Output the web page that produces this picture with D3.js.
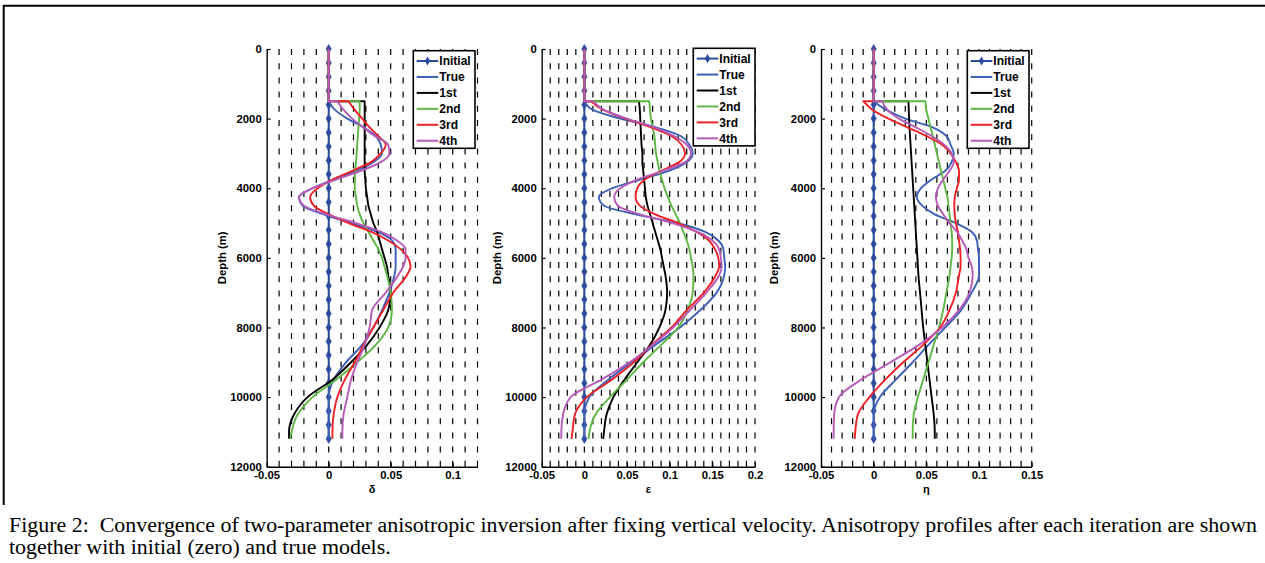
<!DOCTYPE html>
<html><head><meta charset="utf-8">
<script src="https://cdn.jsdelivr.net/npm/d3@7"></script>
<style>body{margin:0;background:#fff}svg{display:block}</style>
</head><body>
<svg id="c" width="1265" height="563"></svg>
<script>
// ---------------- DATA ----------------
const seriesNames = ["Initial", "True", "1st", "2nd", "3rd", "4th"];
const initialDepths = [0,400,800,1200,1600,2000,2400,2800,3200,3600,4000,4400,4800,5200,5600,6000,6400,6800,7200,7600,8000,8400,8800,9200,9600,10000,10400,10800,11200];
const initialValues = [0,0,0,0,0,0,0,0,0,0,0,0,0,0,0,0,0,0,0,0,0,0,0,0,0,0,0,0,0];
const jumpDepth = 1500;
const depthKnots = [1500,1750,2000,2250,2500,2750,3000,3250,3500,3750,4000,4250,4500,4750,5000,5250,5500,5750,6000,6250,6500,7000,7500,8000,8500,9000,9500,10000,10500,11000,11200];

const deltaTrue = [0,0.005,0.015,0.028,0.038,0.042,0.043,0.036,0.022,0.004,-0.013,-0.024,-0.021,-0.004,0.018,0.039,0.051,0.054,0.054,0.054,0.053,0.049,0.043,0.036,0.027,0.014,0.004,0.000,0,0,0];
const delta1st  = [0.029,0.029,0.029,0.029,0.029,0.029,0.029,0.029,0.029,0.0295,0.030,0.031,0.032,0.034,0.036,0.039,0.041,0.043,0.045,0.047,0.048,0.050,0.048,0.041,0.031,0.018,0.003,-0.017,-0.028,-0.032,-0.032];
const delta2nd  = [0.025,0.025,0.0245,0.024,0.0235,0.023,0.0225,0.022,0.0215,0.021,0.021,0.022,0.023,0.025,0.028,0.032,0.036,0.040,0.043,0.045,0.047,0.050,0.051,0.048,0.038,0.023,0.006,-0.013,-0.025,-0.030,-0.031];
const delta3rd  = [0.016,0.021,0.027,0.033,0.040,0.046,0.042,0.034,0.019,0.003,-0.009,-0.015,-0.012,0.000,0.016,0.034,0.048,0.058,0.064,0.066,0.063,0.052,0.044,0.036,0.028,0.021,0.013,0.007,0.004,0.003,0.003];
const delta4th  = [0.007,0.012,0.019,0.028,0.037,0.048,0.049,0.042,0.026,0.006,-0.013,-0.024,-0.020,-0.002,0.022,0.042,0.055,0.062,0.062,0.060,0.056,0.046,0.035,0.033,0.029,0.023,0.018,0.015,0.012,0.011,0.011];

const epsTrue = [0,0.010,0.042,0.084,0.113,0.123,0.127,0.120,0.099,0.066,0.033,0.017,0.023,0.060,0.109,0.141,0.157,0.163,0.164,0.165,0.164,0.155,0.136,0.112,0.083,0.055,0.028,0.006,0,0,0];
const eps1st  = [0.064,0.065,0.0655,0.066,0.0665,0.067,0.068,0.068,0.069,0.070,0.071,0.072,0.074,0.077,0.080,0.083,0.086,0.089,0.091,0.093,0.095,0.097,0.095,0.088,0.077,0.062,0.047,0.034,0.026,0.023,0.022];
const eps2nd  = [0.076,0.077,0.078,0.080,0.082,0.083,0.084,0.086,0.088,0.091,0.094,0.098,0.102,0.107,0.112,0.116,0.120,0.123,0.125,0.127,0.128,0.127,0.121,0.110,0.090,0.069,0.050,0.030,0.013,0.006,0.005];
const eps3rd  = [0.008,0.022,0.048,0.078,0.102,0.114,0.118,0.111,0.090,0.071,0.062,0.060,0.065,0.083,0.110,0.131,0.146,0.153,0.157,0.158,0.154,0.140,0.120,0.102,0.079,0.058,0.032,0.003,-0.011,-0.014,-0.015];
const eps4th  = [0.010,0.023,0.050,0.082,0.105,0.120,0.125,0.118,0.092,0.062,0.042,0.035,0.039,0.065,0.103,0.132,0.150,0.158,0.160,0.161,0.158,0.143,0.124,0.104,0.080,0.053,0.020,-0.016,-0.025,-0.027,-0.027];

const etaTrue = [0,0.012,0.030,0.056,0.069,0.073,0.076,0.074,0.068,0.055,0.045,0.041,0.046,0.058,0.078,0.093,0.098,0.099,0.100,0.100,0.100,0.093,0.083,0.068,0.052,0.037,0.021,0.006,0,0,0];
const eta1st  = [0.033,0.0333,0.0336,0.034,0.0345,0.035,0.0355,0.036,0.0365,0.037,0.0375,0.038,0.0385,0.039,0.0395,0.040,0.0405,0.041,0.0415,0.042,0.0425,0.044,0.0455,0.047,0.049,0.051,0.053,0.055,0.057,0.058,0.058];
const eta2nd  = [0.049,0.050,0.052,0.054,0.056,0.058,0.060,0.062,0.064,0.066,0.068,0.070,0.071,0.072,0.073,0.074,0.0745,0.0745,0.074,0.073,0.072,0.069,0.066,0.062,0.057,0.052,0.047,0.042,0.038,0.037,0.037];
const eta3rd  = [-0.010,-0.001,0.014,0.032,0.050,0.065,0.073,0.078,0.081,0.081,0.079,0.077,0.0765,0.077,0.078,0.080,0.081,0.082,0.0825,0.0825,0.081,0.078,0.072,0.063,0.047,0.028,0.011,-0.004,-0.015,-0.0175,-0.018];
const eta4th  = [0.008,0.013,0.024,0.040,0.055,0.067,0.074,0.076,0.072,0.066,0.061,0.059,0.061,0.066,0.072,0.079,0.084,0.088,0.090,0.093,0.094,0.091,0.081,0.065,0.043,0.016,-0.012,-0.033,-0.0375,-0.038,-0.038];

const depthTicks = [0,2000,4000,6000,8000,10000,12000];
const deltaTicks = [-0.05,0,0.05,0.1];
const epsTicks = [-0.05,0,0.05,0.1,0.15,0.2];
const etaTicks = [-0.05,0,0.05,0.1,0.15];
const axisLabels = ["δ","ε","η"];
const yLabel = "Depth (m)";
const captionLines = [
  "Figure 2:  Convergence of two-parameter anisotropic inversion after fixing vertical velocity. Anisotropy profiles after each iteration are shown",
  "together with initial (zero) and true models."
];

// ---------------- STYLE / LAYOUT ----------------
const colors = ["#2b4c9e", "#3d60b6", "#000000", "#5db843", "#ee2025", "#b65ab8"];
const yTop = 49, yBot = 466.7;
const panels = [
  {label: axisLabels[0], domain: [-0.05, 0.12], range: [266.7, 477.5], ticks: deltaTicks,
   series: [deltaTrue, delta1st, delta2nd, delta3rd, delta4th], legend: [413.3, 50.7], ylabX: 44.5},
  {label: axisLabels[1], domain: [-0.05, 0.2], range: [541.7, 755], ticks: epsTicks,
   series: [epsTrue, eps1st, eps2nd, eps3rd, eps4th], legend: [693.3, 48.3], ylabX: 44.5},
  {label: axisLabels[2], domain: [-0.05, 0.15], range: [821, 1031.7], ticks: etaTicks,
   series: [etaTrue, eta1st, eta2nd, eta3rd, eta4th], legend: [967.3, 50.7], ylabX: 47}
];
const sansFont = "'Liberation Sans', Arial, Helvetica, sans-serif";
const serifFont = "'Liberation Serif', 'Times New Roman', Times, serif";

const svg = d3.select("#c");
svg.append("rect").attr("width", 1265).attr("height", 563).attr("fill", "#fff");
// figure frame
svg.append("path").attr("d", "M3.7,505V5.7H1275").attr("fill", "none").attr("stroke", "#000").attr("stroke-width", 2);

const y = d3.scaleLinear().domain([0, 12000]).range([yTop, yBot]);

panels.forEach(p => {
  const x = d3.scaleLinear().domain(p.domain).range(p.range);
  const g = svg.append("g");

  // dashed vertical grid every 0.01
  const n = Math.round((p.domain[1] - p.domain[0]) / 0.01);
  const gridVals = d3.range(1, n + 1).map(i => +(p.domain[0] + i * 0.01).toFixed(3));
  g.append("g").selectAll("line").data(gridVals).join("line")
    .attr("x1", d => x(d)).attr("x2", d => x(d))
    .attr("y1", yTop).attr("y2", yBot)
    .attr("stroke", "#000").attr("stroke-width", 1.2).attr("stroke-dasharray", "6,8.2");

  // axes
  const ax = g.append("g").attr("transform", `translate(${p.range[0]},0)`)
    .call(d3.axisLeft(y).tickValues(depthTicks).tickFormat(d => String(d)).tickSizeInner(-4).tickSizeOuter(0).tickPadding(5));
  const bx = g.append("g").attr("transform", `translate(0,${yBot})`)
    .call(d3.axisBottom(x).tickValues(p.ticks).tickFormat(d => String(d)).tickSizeInner(-4).tickSizeOuter(0).tickPadding(4.5));
  [ax, bx].forEach(a => {
    a.select(".domain").attr("stroke", "#000").attr("stroke-width", 1.4);
    a.selectAll(".tick line").attr("stroke", "#000").attr("stroke-width", 1.2);
    a.selectAll("text").attr("fill", "#000").style("font-family", sansFont).style("font-weight", "bold").style("font-size", "11.3px");
  });

  // axis labels
  g.append("text").attr("x", (p.range[0] + p.range[1]) / 2).attr("y", 493)
    .attr("text-anchor", "middle").style("font-family", sansFont).style("font-weight", "bold").style("font-size", "11px")
    .text(p.label);
  g.append("text").attr("transform", `translate(${p.range[0] - p.ylabX},${(yTop + yBot) / 2}) rotate(-90)`)
    .attr("text-anchor", "middle").attr("dy", "0.35em")
    .style("font-family", sansFont).style("font-weight", "bold").style("font-size", "11.3px")
    .text(yLabel);

  // initial model
  const lineLin = d3.line().x(d => x(d[0])).y(d => y(d[1]));
  const initPts = initialDepths.map((d, i) => [initialValues[i], d]);
  g.append("path").attr("d", lineLin(initPts)).attr("fill", "none").attr("stroke", colors[0]).attr("stroke-width", 2);
  g.append("g").selectAll("path").data(initPts).join("path")
    .attr("transform", d => `translate(${x(d[0])},${y(d[1])})`)
    .attr("d", d3.symbol(d3.symbolDiamond, 24)).attr("fill", colors[0]).attr("stroke", colors[0]).attr("stroke-width", 0.6);

  // iterative profiles
  const curve = d3.line().x(d => x(d[0])).y(d => y(d[1])).curve(d3.curveMonotoneY);
  p.series.forEach((vals, k) => {
    const top = lineLin([[0, 0], [0, jumpDepth], [vals[0], jumpDepth]]);
    const pts = depthKnots.map((d, i) => [vals[i], d]);
    const rest = curve(pts).replace(/^M/, "L");
    g.append("path").attr("d", top + rest).attr("fill", "none")
      .attr("stroke", colors[k + 1]).attr("stroke-width", 1.9).attr("stroke-linejoin", "round");
  });

  // legend
  const [lx, ly] = p.legend;
  const lg = g.append("g").attr("transform", `translate(${lx},${ly})`);
  lg.append("rect").attr("width", 61.7).attr("height", 97.6).attr("fill", "#fff").attr("stroke", "#000").attr("stroke-width", 1.6);
  seriesNames.forEach((name, i) => {
    const ry = 10.3 + i * 15.95;
    lg.append("line").attr("x1", 3.4).attr("x2", 25).attr("y1", ry).attr("y2", ry)
      .attr("stroke", colors[i]).attr("stroke-width", 2);
    if (i === 0) {
      lg.append("path").attr("transform", `translate(14.2,${ry})`).attr("d", d3.symbol(d3.symbolDiamond, 24)).attr("fill", colors[0]);
    }
    lg.append("text").attr("x", 26).attr("y", ry).attr("dy", "0.35em")
      .style("font-family", sansFont).style("font-weight", "bold").style("font-size", "12px").text(name);
  });
});

// caption
const cap1 = svg.append("text").attr("x", 9).attr("y", 532).style("white-space", "pre")
  .style("font-family", serifFont).style("font-size", "20.5px").text(captionLines[0]);
const cap2 = svg.append("text").attr("x", 9).attr("y", 554).style("white-space", "pre")
  .style("font-family", serifFont).style("font-size", "20.5px").text(captionLines[1]);
const nat1 = cap1.node().getComputedTextLength();
const nat2 = cap2.node().getComputedTextLength();
const f = 1248 / nat1;
cap1.attr("textLength", 1248).attr("lengthAdjust", "spacingAndGlyphs");
cap2.attr("textLength", nat2 * f).attr("lengthAdjust", "spacingAndGlyphs");
</script>
</body></html>
